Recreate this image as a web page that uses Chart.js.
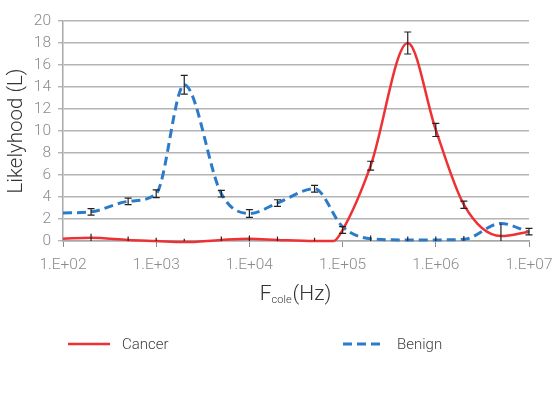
<!DOCTYPE html>
<html>
<head>
<meta charset="utf-8">
<script src="https://cdn.jsdelivr.net/npm/chart.js@4.4.1/dist/chart.umd.min.js"></script>
<style>
    html, body { margin: 0; padding: 0; background: #ffffff; }
    #wrap { width: 555px; height: 400px; }
</style>
</head>
<body>
<div id="wrap"><canvas id="likelyChart" width="555" height="400"></canvas></div>
<script>
    // frequencies (Hz) and likelyhood values
    const freqCancer = [100, 200, 500, 1e3, 2e3, 5e3, 1e4, 2e4, 5e4, 8e4, 1e5, 2e5, 5e5, 1e6, 2e6, 5e6, 1e7];
    const cancerValues = [0.2, 0.3, 0.1, 0, -0.1, 0.1, 0.2, 0.1, 0, 0, 1.0, 6.85, 18.0, 10.1, 3.3, 0.45, 0.85];
    const cancerErrors = [0, 0.35, 0.3, 0.3, 0.3, 0.3, 0.3, 0.3, 0.3, 0, 0.3, 0.4, 1.0, 0.6, 0.33, 1.15, 0.3];

    const freqBenign = [100, 200, 500, 1e3, 2e3, 5e3, 1e4, 2e4, 5e4, 1e5, 2e5, 5e5, 1e6, 2e6, 5e6, 1e7];
    const benignValues = [2.55, 2.65, 3.6, 4.3, 14.2, 4.3, 2.5, 3.45, 4.75, 1.3, 0.2, 0.1, 0.1, 0.15, 1.6, 0.8];
    const benignErrors = [0, 0.3, 0.3, 0.35, 0.85, 0.3, 0.35, 0.3, 0.3, 0, 0.3, 0.3, 0.3, 0.3, 0, 0];

    const xTickExponents = [2, 3, 4, 5, 6, 7];
    const yTicks = [0, 2, 4, 6, 8, 10, 12, 14, 16, 18, 20];

    const toPoints = (xs, ys) => xs.map((x, i) => ({ x: x, y: ys[i] }));

    // error bars drawn through the chart scales
    const errorBarsPlugin = {
        id: 'errorBars',
        afterDatasetsDraw(chart) {
            const ctx = chart.ctx;
            const xs = chart.scales.x, ys = chart.scales.y;
            const area = chart.chartArea;
            ctx.save();
            ctx.beginPath();
            ctx.rect(area.left - 5, area.top - 5, area.right - area.left + 10, area.bottom - area.top + 5);
            ctx.clip();
            ctx.strokeStyle = '#222222';
            ctx.lineWidth = 1.2;
            chart.data.datasets.forEach(ds => {
                ds.errors.forEach((e, j) => {
                    if (!e) return;
                    const p = ds.data[j];
                    const px = xs.getPixelForValue(p.x);
                    const top = ys.getPixelForValue(p.y + e);
                    const bot = ys.getPixelForValue(p.y - e);
                    ctx.beginPath();
                    ctx.moveTo(px, top);
                    ctx.lineTo(px, bot);
                    if (p.y > 0.5) {
                        ctx.moveTo(px - 3.5, top);
                        ctx.lineTo(px + 3.5, top);
                        ctx.moveTo(px - 3.5, bot);
                        ctx.lineTo(px + 3.5, bot);
                    }
                    ctx.stroke();
                });
            });
            ctx.restore();
        }
    };

    // axis titles and legend
    const labelsPlugin = {
        id: 'labels',
        afterDraw(chart) {
            const ctx = chart.ctx;
            const area = chart.chartArea;
            ctx.save();
            ctx.fillStyle = '#333333';
            ctx.textBaseline = 'alphabetic';

            // y title
            ctx.save();
            ctx.translate(22, (area.top + area.bottom) / 2);
            ctx.rotate(-Math.PI / 2);
            ctx.textAlign = 'center';
            ctx.font = '300 20.5px Roboto';
            ctx.fillText('Likelyhood (L)', 0, 0);
            ctx.restore();

            // x title with subscript
            ctx.textAlign = 'left';
            ctx.font = '300 21px Roboto';
            const fW = ctx.measureText('F').width;
            ctx.font = '300 11px Roboto';
            const subW = ctx.measureText('cole').width;
            ctx.font = '300 21px Roboto';
            const restW = ctx.measureText('(Hz)').width;
            let tx = 295 - (fW + subW + restW) / 2;
            ctx.fillText('F', tx, 300);
            ctx.font = '300 11px Roboto';
            ctx.fillText('cole', tx + fW, 303);
            ctx.font = '300 21px Roboto';
            ctx.fillText('(Hz)', tx + fW + subW + 1, 300);

            // legend
            ctx.font = '300 15px Roboto';
            ctx.textBaseline = 'middle';
            const legendX = [68, 343];
            chart.data.datasets.forEach((ds, i) => {
                const lx = legendX[i];
                ctx.save();
                ctx.strokeStyle = ds.borderColor;
                ctx.lineWidth = ds.borderWidth;
                ctx.setLineDash(ds.borderDash || []);
                ctx.beginPath();
                ctx.moveTo(lx, 344);
                ctx.lineTo(lx + 42, 344);
                ctx.stroke();
                ctx.restore();
                ctx.fillStyle = '#404040';
                ctx.fillText(ds.label, lx + 54, 345);
            });
            ctx.restore();
        }
    };

    document.addEventListener('DOMContentLoaded', function() {
        const ctx = document.getElementById('likelyChart').getContext('2d');
        window.likelyChart = new Chart(ctx, {
            type: 'line',
            data: {
                datasets: [
                    {
                        label: 'Cancer',
                        data: toPoints(freqCancer, cancerValues),
                        errors: cancerErrors,
                        borderColor: '#ee3134',
                        borderWidth: 2.5,
                        pointRadius: 0,
                        cubicInterpolationMode: 'monotone',
                        clip: false
                    },
                    {
                        label: 'Benign',
                        data: toPoints(freqBenign, benignValues),
                        errors: benignErrors,
                        borderColor: '#2b7bca',
                        borderWidth: 3,
                        borderDash: [9, 5],
                        pointRadius: 0,
                        cubicInterpolationMode: 'monotone',
                        clip: false
                    }
                ]
            },
            options: {
                responsive: false,
                animation: false,
                layout: { padding: { top: 21, right: 26, left: 0, bottom: 0 } },
                plugins: {
                    legend: { display: false },
                    tooltip: { enabled: false }
                },
                scales: {
                    x: {
                        type: 'logarithmic',
                        min: 100,
                        max: 1e7,
                        afterBuildTicks: scale => {
                            scale.ticks = xTickExponents.map(e => ({ value: Math.pow(10, e) }));
                        },
                        afterFit: scale => {
                            scale.height = 159;
                            scale.paddingLeft = 0;
                            scale.paddingRight = 0;
                        },
                        ticks: {
                            callback: v => '1.E+0' + Math.round(Math.log10(v)),
                            color: '#8a8a8a',
                            font: { family: 'Roboto', size: 15.5, weight: '300' },
                            padding: 9,
                            maxRotation: 0,
                            autoSkip: false
                        },
                        grid: {
                            drawOnChartArea: false,
                            drawTicks: true,
                            tickLength: 6,
                            color: '#8c8c8c'
                        },
                        border: { display: true, color: '#a8a8a8', width: 1.5 }
                    },
                    y: {
                        min: 0,
                        max: 20,
                        afterBuildTicks: scale => {
                            scale.ticks = yTicks.map(v => ({ value: v }));
                        },
                        afterFit: scale => { scale.width = 63; },
                        ticks: {
                            color: '#8a8a8a',
                            font: { family: 'Roboto', size: 15.5, weight: '300' },
                            padding: 7
                        },
                        grid: {
                            color: '#b4b4b4',
                            lineWidth: 1.4,
                            tickLength: 5
                        },
                        border: { display: true, color: '#a8a8a8', width: 1.5 }
                    }
                }
            },
            plugins: [errorBarsPlugin, labelsPlugin]
        });
    });
</script>
</body>
</html>
